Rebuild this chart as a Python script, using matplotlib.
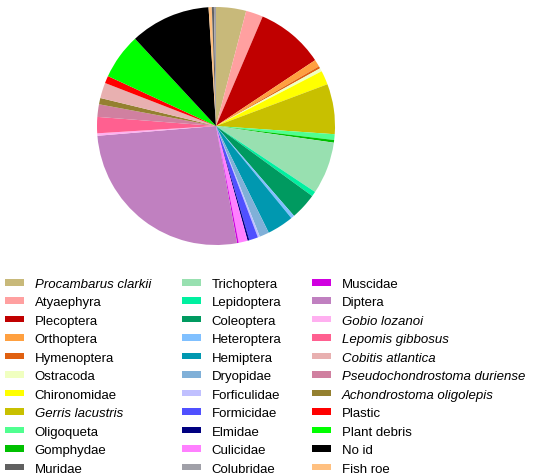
import matplotlib
matplotlib.use('Agg')
import matplotlib.pyplot as plt
from matplotlib.patches import Patch

plt.rcParams['font.family'] = ['Liberation Sans', 'DejaVu Sans']

# slices in the order they go round the pie (clockwise from 12 o'clock), in %
pie_labels = ['Procambarus clarkii', 'Atyaephyra', 'Plecoptera', 'Orthoptera', 'Hymenoptera',
              'Ostracoda', 'Chironomidae', 'Gerris lacustris', 'Oligoqueta', 'Gomphydae',
              'Trichoptera', 'Lepidoptera', 'Coleoptera', 'Heteroptera', 'Hemiptera',
              'Dryopidae', 'Forficulidae', 'Formicidae', 'Elmidae', 'Culicidae', 'Muscidae',
              'Diptera', 'Gobio lozanoi', 'Lepomis gibbosus', 'Pseudochondrostoma duriense',
              'Achondrostoma oligolepis', 'Cobitis atlantica', 'Plastic', 'Plant debris',
              'No id', 'Fish roe', 'Muridae', 'Colubridae']
pie_values = [4.08, 2.33, 9.25, 0.97, 0.30,
              0.45, 1.90, 6.80, 0.78, 0.36,
              7.10, 0.67, 3.60, 0.47, 3.60,
              1.30, 0.28, 1.20, 0.25, 1.22, 0.22,
              26.5, 0.33, 2.20, 1.70,
              0.86, 2.10, 1.00, 6.20,
              10.9, 0.44, 0.28, 0.28]

colors = {
    'Procambarus clarkii': '#c8b97a', 'Atyaephyra': '#ffa0a0', 'Plecoptera': '#c00000',
    'Orthoptera': '#ffa040', 'Hymenoptera': '#e06010', 'Ostracoda': '#f0ffc0',
    'Chironomidae': '#ffff00', 'Gerris lacustris': '#c8c000', 'Oligoqueta': '#50ff90',
    'Gomphydae': '#00c000', 'Muridae': '#606060', 'Trichoptera': '#98e0b0',
    'Lepidoptera': '#00f0a0', 'Coleoptera': '#009a60', 'Heteroptera': '#80c0ff',
    'Hemiptera': '#0098b0', 'Dryopidae': '#80b0d8', 'Forficulidae': '#c0c0ff',
    'Formicidae': '#5050ff', 'Elmidae': '#000080', 'Culicidae': '#ff80ff',
    'Colubridae': '#a0a0a8', 'Muscidae': '#d000e0', 'Diptera': '#c080c0',
    'Gobio lozanoi': '#ffb0f0', 'Lepomis gibbosus': '#ff6090', 'Cobitis atlantica': '#e8b0b0',
    'Pseudochondrostoma duriense': '#d080a0', 'Achondrostoma oligolepis': '#948030',
    'Plastic': '#ff0000', 'Plant debris': '#00ff00', 'No id': '#000000', 'Fish roe': '#ffc080',
}

legend_cols = [
    ['Procambarus clarkii', 'Atyaephyra', 'Plecoptera', 'Orthoptera', 'Hymenoptera',
     'Ostracoda', 'Chironomidae', 'Gerris lacustris', 'Oligoqueta', 'Gomphydae', 'Muridae'],
    ['Trichoptera', 'Lepidoptera', 'Coleoptera', 'Heteroptera', 'Hemiptera', 'Dryopidae',
     'Forficulidae', 'Formicidae', 'Elmidae', 'Culicidae', 'Colubridae'],
    ['Muscidae', 'Diptera', 'Gobio lozanoi', 'Lepomis gibbosus', 'Cobitis atlantica',
     'Pseudochondrostoma duriense', 'Achondrostoma oligolepis', 'Plastic', 'Plant debris',
     'No id', 'Fish roe'],
]
italic = {'Procambarus clarkii', 'Gerris lacustris', 'Gobio lozanoi', 'Lepomis gibbosus',
          'Cobitis atlantica', 'Pseudochondrostoma duriense', 'Achondrostoma oligolepis'}

fig = plt.figure(figsize=(5.5, 4.77), dpi=100)
ax = fig.add_axes([97 / 550, 1 - 246 / 477, 238 / 550, 238 / 477])
ax.pie(pie_values, colors=[colors[l] for l in pie_labels], startangle=90,
       counterclock=False, radius=1, wedgeprops={'linewidth': 0})
ax.set_xlim(-1, 1)
ax.set_ylim(-1, 1)
ax.set_aspect('equal')
ax.axis('off')

col_x = [5 / 550, 182 / 550, 312 / 550]
for x, names in zip(col_x, legend_cols):
    handles = [Patch(facecolor=colors[n], edgecolor='none') for n in names]
    leg = fig.legend(handles, names, loc='upper left', bbox_to_anchor=(x, 1 - 279 / 477),
                     frameon=False, fontsize=9.5, borderpad=0, borderaxespad=0,
                     handlelength=1.45, handleheight=0.38, handletextpad=0.8,
                     labelspacing=0.49)
    for t in leg.get_texts():
        if t.get_text() in italic:
            t.set_style('italic')

fig.savefig('out.png', dpi=100)
